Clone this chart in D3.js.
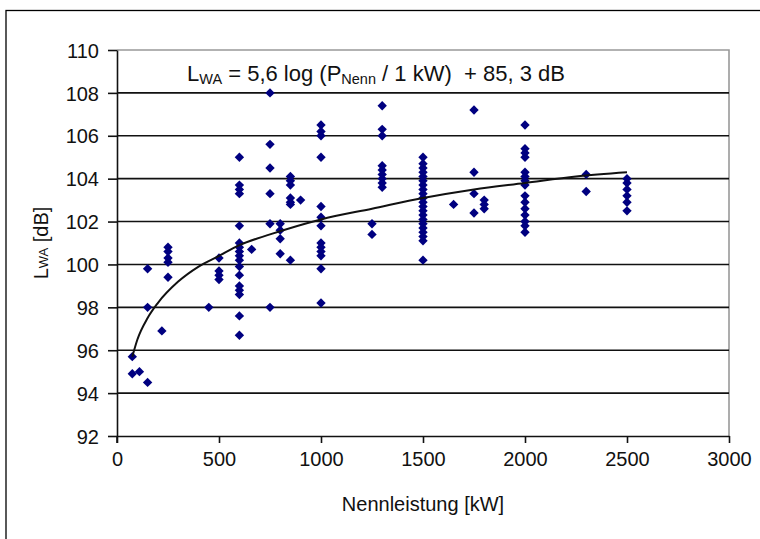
<!DOCTYPE html>
<html>
<head>
<meta charset="utf-8">
<script src="https://d3js.org/d3.v7.min.js"></script>
<style>
  body { margin: 0; background: #fff; }
  text { font-family: "Liberation Sans", Arial, sans-serif; fill: #111; }
</style>
</head>
<body>
<svg id="chart" width="760" height="539"></svg>
<script>
  // rated power columns [kW] and the sound power levels measured at each [dB]
  var columnPower = [75, 110, 150, 220, 250, 450, 500, 600, 660, 750, 800, 850, 900,
                     1000, 1250, 1300, 1500, 1650, 1750, 1800, 2000, 2300, 2500];
  var columnLevels = [
    [95.7, 94.9],
    [95.0],
    [99.8, 98.0, 94.5],
    [96.9],
    [100.8, 100.6, 100.3, 100.1, 99.4],
    [98.0],
    [100.3, 99.7, 99.5, 99.3],
    [105.0, 103.7, 103.5, 103.3, 101.8, 101.0, 100.8, 100.6, 100.4, 100.2, 99.9, 99.5, 99.0, 98.8, 98.6, 97.6, 96.7],
    [100.7],
    [108.0, 105.6, 104.5, 103.3, 101.9, 98.0],
    [101.9, 101.6, 101.2, 100.5],
    [104.1, 103.9, 103.7, 103.1, 102.9, 102.8, 100.2],
    [103.0],
    [106.5, 106.2, 106.0, 105.0, 102.7, 102.2, 101.8, 101.0, 100.8, 100.6, 100.4, 99.8, 98.2],
    [101.9, 101.4],
    [107.4, 106.3, 106.0, 104.6, 104.4, 104.2, 104.0, 103.8, 103.6],
    [105.0, 104.7, 104.5, 104.3, 104.1, 103.9, 103.7, 103.5, 103.3, 103.1, 102.9, 102.7,
     102.5, 102.3, 102.1, 101.9, 101.7, 101.5, 101.3, 101.1, 100.2],
    [102.8],
    [107.2, 104.3, 103.3, 102.4],
    [103.0, 102.8, 102.6],
    [106.5, 105.4, 105.2, 105.0, 104.3, 104.1, 103.9, 103.7, 103.2, 102.9, 102.6, 102.3, 102.0, 101.8, 101.5],
    [104.2, 103.4],
    [104.0, 103.8, 103.5, 103.2, 102.9, 102.5]
  ];

  // trend line
  var trendPower = [75, 100, 150, 200, 300, 400, 500, 600, 750, 1000, 1250, 1500, 1750, 2000, 2250, 2500];
  var trendLevel = [95.7, 96.5, 97.5, 98.2, 99.2, 99.9, 100.4, 100.9, 101.4, 102.1, 102.6, 103.1, 103.5, 103.8, 104.1, 104.3];

  var xTicks = [0, 500, 1000, 1500, 2000, 2500, 3000];
  var yTicks = [92, 94, 96, 98, 100, 102, 104, 106, 108, 110];

  var svg = d3.select("#chart");
  var plotL = 117, plotR = 729, plotT = 50, plotB = 436;

  var x = d3.scaleLinear().domain([0, 3000]).range([plotL, plotR]);
  var y = d3.scaleLinear().domain([92, 110]).range([plotB, plotT]);

  // outer frame (runs off the right and bottom edge)
  svg.append("rect").attr("x", 6).attr("y", 10.5).attr("width", 800).attr("height", 600)
    .attr("fill", "none").attr("stroke", "#000").attr("stroke-width", 1.3);

  // plot box: grey top / right
  svg.append("path")
    .attr("d", "M" + plotL + "," + plotT + "H" + plotR + "V" + plotB)
    .attr("fill", "none").attr("stroke", "#999").attr("stroke-width", 1.6);

  // grid lines
  svg.append("g").selectAll("line")
    .data(yTicks.filter(function(d) { return d > 92 && d < 110; }))
    .enter().append("line")
    .attr("x1", plotL).attr("x2", plotR)
    .attr("y1", function(d) { return y(d); }).attr("y2", function(d) { return y(d); })
    .attr("stroke", "#111").attr("stroke-width", 1.6);

  // axes
  var yAxis = svg.append("g").attr("transform", "translate(" + plotL + ",0)")
    .call(d3.axisLeft(y).tickValues(yTicks).tickSize(9).tickSizeOuter(0).tickPadding(9).tickFormat(d3.format("d")));
  var xAxis = svg.append("g").attr("transform", "translate(0," + plotB + ")")
    .call(d3.axisBottom(x).tickValues(xTicks).tickSize(7).tickSizeOuter(0).tickPadding(9).tickFormat(d3.format("d")));
  [xAxis, yAxis].forEach(function(ax) {
    ax.select(".domain").attr("stroke", "#111").attr("stroke-width", 1.6);
    ax.selectAll(".tick line").attr("stroke", "#111").attr("stroke-width", 1.6);
    ax.selectAll("text").attr("font-size", 20).attr("font-family", "Liberation Sans, Arial, sans-serif").attr("fill", "#111");
  });
  yAxis.selectAll("text").attr("dy", "0.36em");
  xAxis.selectAll("text").attr("dy", "0.71em");
  // extend left axis down past the x axis like Excel
  svg.append("line").attr("x1", plotL).attr("x2", plotL).attr("y1", plotB).attr("y2", plotB + 7)
    .attr("stroke", "#111").attr("stroke-width", 1.6);

  // points
  var points = [];
  columnPower.forEach(function(p, i) {
    columnLevels[i].forEach(function(v) { points.push({p: p, v: v}); });
  });
  var diamond = d3.symbol().type(d3.symbolSquare).size(44);
  svg.append("g").selectAll("path")
    .data(points)
    .enter().append("path")
    .attr("d", diamond)
    .attr("transform", function(d) { return "translate(" + x(d.p) + "," + y(d.v) + ") rotate(45)"; })
    .attr("fill", "#000080");

  // trend line
  var trend = trendPower.map(function(p, i) { return [p, trendLevel[i]]; });
  svg.append("path")
    .datum(trend)
    .attr("d", d3.line().x(function(d) { return x(d[0]); }).y(function(d) { return y(d[1]); }).curve(d3.curveMonotoneX))
    .attr("fill", "none").attr("stroke", "#111").attr("stroke-width", 2);

  // formula
  var f = svg.append("text").attr("x", 187).attr("y", 81).attr("font-size", 22)
    .style("white-space", "pre");
  f.append("tspan").text("L");
  f.append("tspan").attr("font-size", 14.5).attr("dy", 3).text("WA");
  f.append("tspan").attr("dy", -3).text(" = 5,6 log (P");
  f.append("tspan").attr("font-size", 14.5).attr("dy", 3).text("Nenn");
  f.append("tspan").attr("dy", -3).text(" / 1 kW)  + 85, 3 dB");

  // axis titles
  svg.append("text").attr("x", (plotL + plotR) / 2).attr("y", 511)
    .attr("text-anchor", "middle").attr("font-size", 20).text("Nennleistung [kW]");

  var yl = svg.append("text").attr("transform", "translate(48,243) rotate(-90)")
    .attr("text-anchor", "middle").attr("font-size", 20);
  yl.append("tspan").text("L");
  yl.append("tspan").attr("font-size", 13).text("WA");
  yl.append("tspan").text(" [dB]");
</script>
</body>
</html>
